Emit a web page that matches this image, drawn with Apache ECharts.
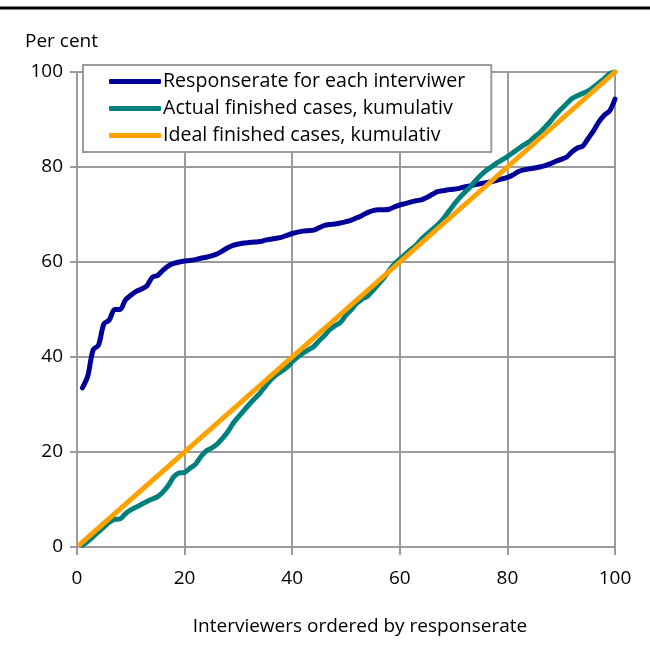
<!DOCTYPE html>
<html>
<head>
<meta charset="utf-8">
<script src="https://cdn.jsdelivr.net/npm/echarts@6/dist/echarts.min.js"></script>
<style>
  html, body { margin: 0; padding: 0; background: #fff; }
  #chart { width: 650px; height: 650px; }
</style>
</head>
<body>
<div id="chart"></div>
<script>
// Response rate per interviewer (sorted), interviewer 1..100
const responseRate = [
  33.5, 36, 41.5, 42.5, 47, 47.8, 50, 50, 52, 53,
  53.8, 54.3, 55, 56.8, 57.2, 58.3, 59.2, 59.7, 60, 60.2,
  60.3, 60.5, 60.8, 61, 61.3, 61.7, 62.3, 63, 63.5, 63.8,
  64, 64.1, 64.2, 64.3, 64.6, 64.8, 65, 65.2, 65.6, 66,
  66.3, 66.5, 66.6, 66.7, 67.2, 67.7, 67.9, 68, 68.2, 68.5,
  68.8, 69.3, 69.8, 70.4, 70.8, 71, 71, 71.1, 71.6, 72,
  72.3, 72.6, 72.9, 73.1, 73.6, 74.2, 74.8, 75, 75.2, 75.3,
  75.5, 75.8, 76, 76.3, 76.5, 76.7, 76.9, 77.2, 77.5, 77.8,
  78.3, 79, 79.4, 79.6, 79.8, 80, 80.3, 80.7, 81.2, 81.6,
  82.1, 83.2, 84, 84.4, 86, 87.6, 89.5, 90.9, 91.8, 94.3
]
// Actual finished cases, cumulative per cent
const actualCum = [
  0.4, 1.2, 2.2, 3.2, 4.2, 5.2, 5.8, 5.9, 7, 7.8,
  8.4, 9, 9.6, 10.1, 10.6, 11.6, 13, 14.8, 15.6, 15.7,
  16.6, 17.4, 19, 20.2, 20.8, 21.6, 22.8, 24.2, 26, 27.4,
  28.7, 30, 31.2, 32.4, 33.8, 35.2, 36.2, 37, 37.8, 39,
  40, 40.8, 41.5, 42.2, 43.4, 44.5, 45.8, 46.6, 47.3, 48.8,
  50, 51.3, 52.2, 52.8, 54, 55.3, 56.6, 58.2, 59.6, 60.6,
  61.6, 62.6, 63.5, 64.8, 65.8, 66.8, 67.8, 69, 70.5, 72,
  73.4, 74.6, 75.7, 77, 78.2, 79.2, 80, 80.8, 81.5, 82.2,
  83, 83.8, 84.6, 85.3, 86.3, 87.2, 88.4, 89.6, 91, 92.2,
  93.3, 94.4, 95, 95.5, 96, 96.8, 97.7, 98.6, 99.6, 100
]
// Ideal finished cases: straight diagonal
const idealCum = [[0.6, 0.6], [100, 100]]

const seriesNames = [
  'Responserate for each interviwer',
  'Actual finished cases, kumulativ',
  'Ideal finished cases, kumulativ'
]
const colors = ['#000099', '#00807C', '#FFA200']
const font = '"Open Sans", sans-serif'
const gridCol = '#9B9B9B'

// pair each value with the interviewer's rank (1-based)
const withRank = arr => arr.map((v, i) => [i + 1, v])

const chart = echarts.init(document.getElementById('chart'))
chart.setOption({
  animation: false,
  color: colors,
  textStyle: { fontFamily: font },
  title: {
    text: 'Per cent', left: 20, top: 27,
    textStyle: { fontSize: 19, fontWeight: 'normal', color: '#000', fontFamily: font }
  },
  graphic: [{
    type: 'line', shape: { x1: 0, y1: 8, x2: 650, y2: 8 },
    style: { stroke: '#000', lineWidth: 3 }
  }],
  legend: {
    orient: 'vertical', left: 83, top: 65,
    backgroundColor: '#fff', borderColor: gridCol, borderWidth: 2,
    padding: [5, 26, 5, 26],
    itemWidth: 52, itemHeight: 5, itemGap: 4,
    icon: 'roundRect',
    textStyle: { fontSize: 19.6, color: '#000', lineHeight: 23, padding: [0, 0, 0, -3], fontFamily: font },
    data: seriesNames
  },
  grid: { left: 77, right: 35, top: 72, bottom: 103, containLabel: false },
  xAxis: {
    type: 'value', min: 0, max: 100, interval: 20,
    name: 'Interviewers ordered by responserate',
    nameLocation: 'middle', nameGap: 70,
    nameTextStyle: { fontSize: 19, color: '#000', fontFamily: font, padding: [0, 0, 0, 28] },
    axisLine: { lineStyle: { color: gridCol, width: 2 } },
    axisTick: { show: true, length: 8, lineStyle: { color: gridCol, width: 2 } },
    axisLabel: { fontSize: 19, color: '#000', margin: 22, fontFamily: font },
    splitLine: { show: true, lineStyle: { color: gridCol, width: 2 } }
  },
  yAxis: {
    type: 'value', min: 0, max: 100, interval: 20,
    axisLine: { show: true, lineStyle: { color: gridCol, width: 2 } },
    axisTick: { show: true, length: 7, lineStyle: { color: gridCol, width: 2 } },
    axisLabel: { fontSize: 19, color: '#000', margin: 14, fontFamily: font },
    splitLine: { show: true, lineStyle: { color: gridCol, width: 2 } }
  },
  series: [
    {
      name: seriesNames[0], type: 'line', data: withRank(responseRate),
      showSymbol: false, smooth: 0.3, lineStyle: { width: 5, cap: 'round' }
    },
    {
      name: seriesNames[1], type: 'line', data: withRank(actualCum),
      showSymbol: false, smooth: 0.3, lineStyle: { width: 5, cap: 'round' }
    },
    {
      name: seriesNames[2], type: 'line', data: idealCum,
      showSymbol: false, lineStyle: { width: 5, cap: 'round' }
    }
  ]
})
</script>
</body>
</html>
